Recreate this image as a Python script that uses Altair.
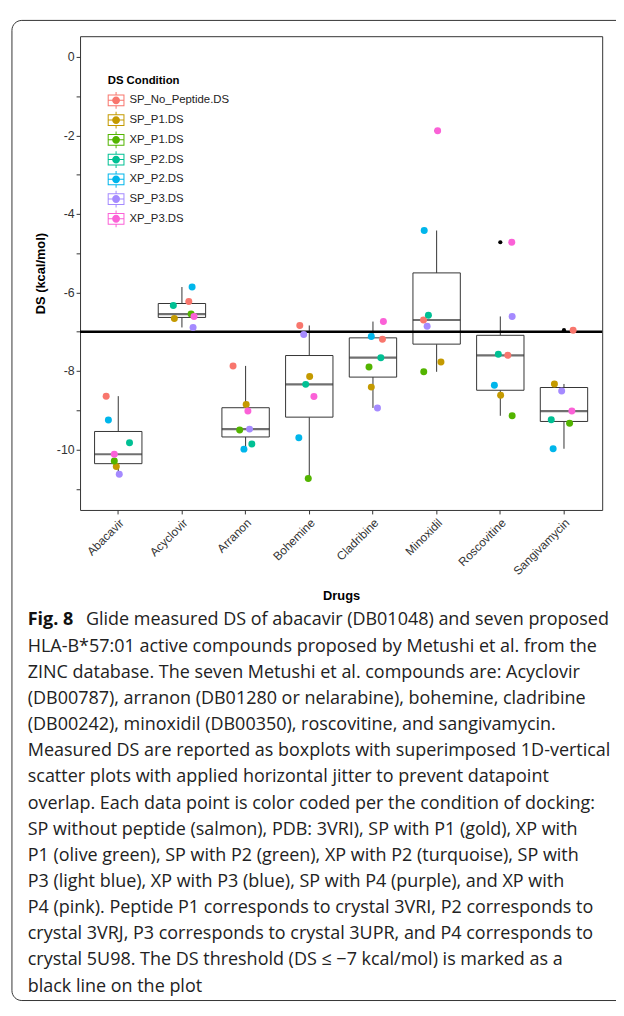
import altair as alt
import pandas as pd

drugs = ["Abacavir", "Acyclovir", "Arranon", "Bohemine", "Cladribine",
         "Minoxidil", "Roscovitine", "Sangivamycin"]
conditions = ["SP_No_Peptide.DS", "SP_P1.DS", "XP_P1.DS", "SP_P2.DS",
              "XP_P2.DS", "SP_P3.DS", "XP_P3.DS"]
colors = ["#F8766D", "#C49A00", "#53B400", "#00C094", "#00B6EB", "#A58AFF", "#FB61D7"]

# DS values per condition, in drug order
ds_sp_nopep = [-8.64, -6.23, -7.87, -6.84, -7.19, -6.70, -7.60, -6.96]
ds_sp_p1 = [-10.43, -6.66, -8.85, -8.14, -8.41, -7.77, -8.62, -8.33]
ds_xp_p1 = [-10.29, -6.55, -9.50, -10.74, -7.90, -8.02, -9.14, -9.33]
ds_sp_p2 = [-9.83, -6.33, -9.86, -8.34, -7.66, -6.58, -7.57, -9.24]
ds_xp_p2 = [-9.25, -5.86, -9.99, -9.70, -7.12, -4.42, -8.36, -9.98]
ds_sp_p3 = [-10.63, -6.89, -9.48, -7.07, -8.94, -6.86, -6.61, -8.51]
ds_xp_p3 = [-10.12, -6.61, -9.02, -8.65, -6.74, -1.88, -4.72, -9.02]

# horizontal jitter (fraction of a category step), in drug order
jit_sp_nopep = [-0.19, 0.108, -0.197, -0.149, 0.149, -0.206, 0.118, 0.144]
jit_sp_p1 = [-0.031, -0.119, 0.009, 0.006, -0.026, 0.068, 0.005, -0.15]
jit_xp_p1 = [-0.062, 0.144, -0.093, -0.016, -0.062, -0.202, 0.186, 0.088]
jit_sp_p2 = [0.177, -0.135, 0.098, -0.056, 0.124, -0.129, -0.031, -0.2]
jit_xp_p2 = [-0.155, 0.16, -0.026, -0.164, -0.026, -0.195, -0.093, -0.17]
jit_sp_p3 = [0.016, 0.175, 0.062, -0.087, 0.071, -0.149, 0.186, -0.036]
jit_xp_p3 = [-0.062, 0.19, 0.036, 0.073, 0.164, 0.016, 0.18, 0.124]

threshold = [-7]
y_ticks = list(range(-11, 1))

caption_bold = "Fig. 8"
caption_lines = [
    "Glide measured DS of abacavir (DB01048) and seven proposed",
    "HLA-B*57:01 active compounds proposed by Metushi et al. from the",
    "ZINC database. The seven Metushi et al. compounds are: Acyclovir",
    "(DB00787), arranon (DB01280 or nelarabine), bohemine, cladribine",
    "(DB00242), minoxidil (DB00350), roscovitine, and sangivamycin.",
    "Measured DS are reported as boxplots with superimposed 1D-vertical",
    "scatter plots with applied horizontal jitter to prevent datapoint",
    "overlap. Each data point is color coded per the condition of docking:",
    "SP without peptide (salmon), PDB: 3VRI), SP with P1 (gold), XP with",
    "P1 (olive green), SP with P2 (green), XP with P2 (turquoise), SP with",
    "P3 (light blue), XP with P3 (blue), SP with P4 (purple), and XP with",
    "P4 (pink). Peptide P1 corresponds to crystal 3VRI, P2 corresponds to",
    "crystal 3VRJ, P3 corresponds to crystal 3UPR, and P4 corresponds to",
    "crystal 5U98. The DS threshold (DS \u2264 \u22127 kcal/mol) is marked as a",
    "black line on the plot",
]

series = [ds_sp_nopep, ds_sp_p1, ds_xp_p1, ds_sp_p2, ds_xp_p2, ds_sp_p3, ds_xp_p3]
jitters = [jit_sp_nopep, jit_sp_p1, jit_xp_p1, jit_sp_p2, jit_xp_p2, jit_sp_p3, jit_xp_p3]
rows = []
for cond, vals, jit in zip(conditions, series, jitters):
    for d, v, j in zip(drugs, vals, jit):
        rows.append({"Drug": d, "Condition": cond, "DS": v, "jitter": j})
df = pd.DataFrame(rows)

cap_df = pd.DataFrame({"line": list(range(1, len(caption_lines))), "text": caption_lines[1:]})
cap0_df = pd.DataFrame({"line": [0], "text": [caption_lines[0]]})
bold_df = pd.DataFrame({"line": [0], "text": [caption_bold]})

FONT = "Liberation Sans"
CAP_FONT = "Open Sans"
CAP_SIZE = 18.2
INK = "#333333"

y_scale = alt.Scale(domain=[-11.54, 0.53], nice=False, zero=False)
x_scale = alt.Scale(type="band", paddingInner=0, paddingOuter=0.1)
x_axis = alt.Axis(title="Drugs", labelAngle=315, labelAlign="right", labelBaseline="top",
                  labelFont=FONT, labelFontSize=12, labelColor=INK, labelPadding=3,
                  tickSize=4, tickColor=INK, domain=False, grid=False,
                  titleFont=FONT, titleFontSize=13, titleFontWeight="bold",
                  titleColor="black", titleY=87, titleBaseline="middle")
x_enc = alt.X("Drug:N", sort=drugs, scale=x_scale, axis=x_axis)

y_axis = alt.Axis(title="DS (kcal/mol)", values=y_ticks,
                  labelExpr="datum.value % 2 == 0 ? toString(datum.value) : ''",
                  grid=False, domain=False, tickSize=4, tickColor=INK,
                  labelFont=FONT, labelFontSize=12.5, labelColor=INK, labelPadding=2,
                  titleFont=FONT, titleFontSize=13, titleFontWeight="bold",
                  titleColor="black", titleX=-40, titleBaseline="middle")

key_path = ("M-1,-0.7L1,-0.7L1,0.7L-1,0.7Z "
            "M-0.88,-0.58L-0.88,0.58L0.88,0.58L0.88,-0.58Z "
            "M-0.88,-0.06L0.88,-0.06L0.88,0.06L-0.88,0.06Z "
            "M-0.06,-1L0.06,-1L0.06,-0.7L-0.06,-0.7Z "
            "M-0.06,0.7L0.06,0.7L0.06,1L-0.06,1Z "
            "M-0.47,0A0.47,0.47,0,1,1,0.47,0A0.47,0.47,0,1,1,-0.47,0Z")

legend = alt.Legend(title="DS Condition", orient="none", legendX=28, legendY=39,
                    titleFont=FONT, titleFontSize=11.5, titleFontWeight="bold",
                    titleColor="black", titlePadding=6,
                    labelFont=FONT, labelFontSize=11.5, labelColor="#222222",
                    labelOffset=5, rowPadding=3, padding=0,
                    symbolType=key_path, symbolSize=289, symbolStrokeWidth=0,
                    symbolOpacity=1)

frame = alt.Chart(pd.DataFrame({"a": [0]})).mark_rect(
    filled=False, color=INK, stroke=INK, strokeWidth=1, cornerRadius=10
).encode(x=alt.value(-69), x2=alt.value(600), y=alt.value(-16), y2=alt.value(977))

box = alt.Chart(df).mark_boxplot(
    size=48, extent=1.5, ticks=False,
    box={"fill": "white", "stroke": INK, "strokeWidth": 1},
    median={"color": INK, "thickness": 2.2},
    rule={"color": INK, "strokeWidth": 1},
    outliers={"color": "black", "size": 18, "filled": True, "opacity": 1},
).encode(x=x_enc, y=alt.Y("DS:Q", scale=y_scale, axis=None))

rule = alt.Chart(pd.DataFrame({"y": threshold})).mark_rule(
    color="black", strokeWidth=2.5
).encode(y=alt.Y("y:Q", scale=y_scale, axis=None))

pts = alt.Chart(df).mark_circle(size=50, opacity=1).encode(
    x=x_enc,
    xOffset=alt.XOffset("jitter:Q", scale=alt.Scale(domain=[-0.5, 0.5])),
    y=alt.Y("DS:Q", scale=y_scale, axis=y_axis),
    color=alt.Color("Condition:N", sort=conditions,
                    scale=alt.Scale(domain=conditions, range=colors), legend=legend),
)

cap_scale = alt.Scale(domain=[0, len(caption_lines) - 1], range=[592, 963])
cap_rest = alt.Chart(cap_df).mark_text(
    align="left", baseline="middle", font=CAP_FONT, fontSize=CAP_SIZE, color="#222222"
).encode(x=alt.value(-53), y=alt.Y("line:Q", scale=cap_scale, axis=None), text="text:N")
cap_first = alt.Chart(cap0_df).mark_text(
    align="left", baseline="middle", font=CAP_FONT, fontSize=CAP_SIZE, color="#222222"
).encode(x=alt.value(6), y=alt.Y("line:Q", scale=cap_scale, axis=None), text="text:N")
cap_bold = alt.Chart(bold_df).mark_text(
    align="left", baseline="middle", font=CAP_FONT, fontSize=CAP_SIZE, fontWeight="bold",
    color="#111111"
).encode(x=alt.value(-53), y=alt.Y("line:Q", scale=cap_scale, axis=None), text="text:N")

chart = alt.layer(frame, box, rule, pts, cap_rest, cap_first, cap_bold).resolve_scale(
    y="independent"
).properties(
    width=529, height=480,
    padding={"left": 73, "top": 22, "right": 14, "bottom": 498},
    autosize=alt.AutoSizeParams(type="none"),
    background="white",
).configure_view(stroke=INK, strokeWidth=1)

chart.save("out.html", embed_options={"renderer": "svg", "actions": False})
